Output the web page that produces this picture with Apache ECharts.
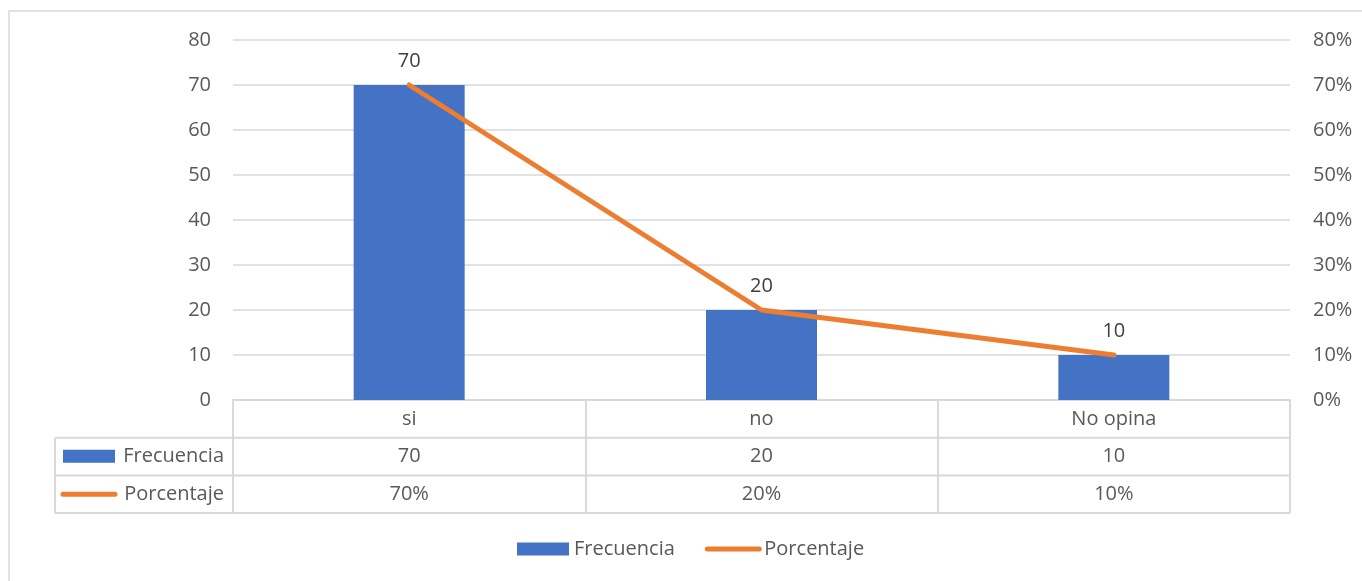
<!DOCTYPE html>
<html>
<head>
<meta charset="utf-8">
<style>
  html, body { margin: 0; padding: 0; background: #ffffff; }
  #chart { width: 1362px; height: 581px; }
</style>
<script src="https://cdn.jsdelivr.net/npm/echarts@6/dist/echarts.min.js"></script>
</head>
<body>
<div id="chart"></div>
<script>
// Survey answers: frequency and percentage per option
const categories = ['si', 'no', 'No opina'];
const frecuencia = [70, 20, 10];
const porcentaje = [70, 20, 10];
const leftTicks = [0, 10, 20, 30, 40, 50, 60, 70, 80];
const rightTicks = ['0%', '10%', '20%', '30%', '40%', '50%', '60%', '70%', '80%'];

const FONT = '"Open Sans", "Noto Sans", sans-serif';
const FS = 20;
const TEXT = '#595959';
const BORDER = '#d9d9d9';
const BLUE = '#4472c4';
const ORANGE = '#ed7d31';

// plot layout and data-table rows beneath the axis
const W = 1362, H = 581;
const gridLeft = 233, gridRight = 1290, gridTop = 40, gridBottom = 400;
const rowH = 37.7;
const tableLeft = 55;
const rowLines = [gridBottom + rowH, gridBottom + 2 * rowH, gridBottom + 3 * rowH];

const chart = echarts.init(document.getElementById('chart'), null, { renderer: 'canvas' });

const labelStyle = { color: TEXT, fontSize: FS, fontFamily: FONT };

const tableGraphics = [
  // outer chart frame
  { type: 'rect', shape: { x: 9, y: 11, width: 1400, height: 620 },
    style: { fill: 'none', stroke: BORDER, lineWidth: 1.5 }, silent: true },
  // horizontal table rules
  ...rowLines.map(y => ({
    type: 'line', shape: { x1: tableLeft, y1: y, x2: gridRight, y2: y },
    style: { stroke: BORDER, lineWidth: 2 }, silent: true
  })),
  // left edge of the series-name column
  { type: 'line', shape: { x1: tableLeft, y1: rowLines[0], x2: tableLeft, y2: rowLines[2] },
    style: { stroke: BORDER, lineWidth: 2 }, silent: true },
  // series keys in the table
  { type: 'rect', shape: { x: 63, y: rowLines[0] + 12, width: 52, height: 13 },
    style: { fill: BLUE }, silent: true },
  { type: 'line', shape: { x1: 63, y1: (rowLines[1] + rowLines[2]) / 2, x2: 115, y2: (rowLines[1] + rowLines[2]) / 2 },
    style: { stroke: ORANGE, lineWidth: 5, lineCap: 'round' }, silent: true },
  { type: 'text', x: 224, y: (rowLines[0] + rowLines[1]) / 2,
    style: { text: 'Frecuencia', fill: TEXT, font: FS + 'px ' + FONT, textAlign: 'right', textVerticalAlign: 'middle' }, silent: true },
  { type: 'text', x: 224, y: (rowLines[1] + rowLines[2]) / 2,
    style: { text: 'Porcentaje', fill: TEXT, font: FS + 'px ' + FONT, textAlign: 'right', textVerticalAlign: 'middle' }, silent: true }
];

const option = {
  animation: false,
  backgroundColor: '#ffffff',
  grid: { left: gridLeft, right: W - gridRight, top: gridTop, bottom: H - gridBottom, containLabel: false },
  legend: {
    left: 512, top: 534,
    itemWidth: 52, itemHeight: 13, itemGap: 30,
    textStyle: { color: TEXT, fontSize: FS, fontFamily: FONT },
    data: [
      { name: 'Frecuencia', icon: 'rect' },
      { name: 'Porcentaje', itemStyle: { opacity: 0 }, lineStyle: { width: 5, cap: 'round', color: ORANGE } }
    ]
  },
  xAxis: [
    {
      type: 'category', data: categories, position: 'bottom',
      axisLine: { show: true, lineStyle: { color: BORDER, width: 2 } },
      axisTick: { show: true, alignWithLabel: false, interval: 0, length: rowH * 3, lineStyle: { color: BORDER, width: 2 } },
      axisLabel: Object.assign({ margin: 19, verticalAlign: 'middle', interval: 0 }, labelStyle),
      splitLine: { show: false }
    },
    {
      type: 'category', data: frecuencia.map(String), position: 'bottom', offset: rowH,
      axisLine: { show: false }, axisTick: { show: false },
      axisLabel: Object.assign({ margin: 19, verticalAlign: 'middle', interval: 0 }, labelStyle)
    },
    {
      type: 'category', data: porcentaje.map(v => v + '%'), position: 'bottom', offset: rowH * 2,
      axisLine: { show: false }, axisTick: { show: false },
      axisLabel: Object.assign({ margin: 19, verticalAlign: 'middle', interval: 0 }, labelStyle)
    }
  ],
  yAxis: [
    {
      type: 'value', min: leftTicks[0], max: leftTicks[leftTicks.length - 1], interval: 10,
      axisLine: { show: false }, axisTick: { show: false },
      axisLabel: Object.assign({ margin: 22 }, labelStyle),
      splitLine: { show: true, lineStyle: { color: BORDER, width: 1.5 } }
    },
    {
      type: 'value', min: 0, max: 80, interval: 10, position: 'right',
      axisLine: { show: false }, axisTick: { show: false },
      axisLabel: Object.assign({ margin: 23, formatter: v => rightTicks[Math.round(v / 10)] }, labelStyle),
      splitLine: { show: false }
    }
  ],
  series: [
    {
      name: 'Frecuencia', type: 'bar', data: frecuencia, barWidth: 111,
      xAxisIndex: 0, yAxisIndex: 0,
      itemStyle: { color: BLUE },
      label: { show: true, position: 'top', distance: 14, color: '#404040', fontSize: FS, fontFamily: FONT }
    },
    {
      name: 'Porcentaje', type: 'line', data: porcentaje,
      xAxisIndex: 0, yAxisIndex: 1,
      symbol: 'none', showSymbol: false, z: 3,
      itemStyle: { color: ORANGE },
      lineStyle: { color: ORANGE, width: 5, cap: 'round', join: 'round' }
    }
  ],
  graphic: tableGraphics
};

chart.setOption(option);
</script>
</body>
</html>
